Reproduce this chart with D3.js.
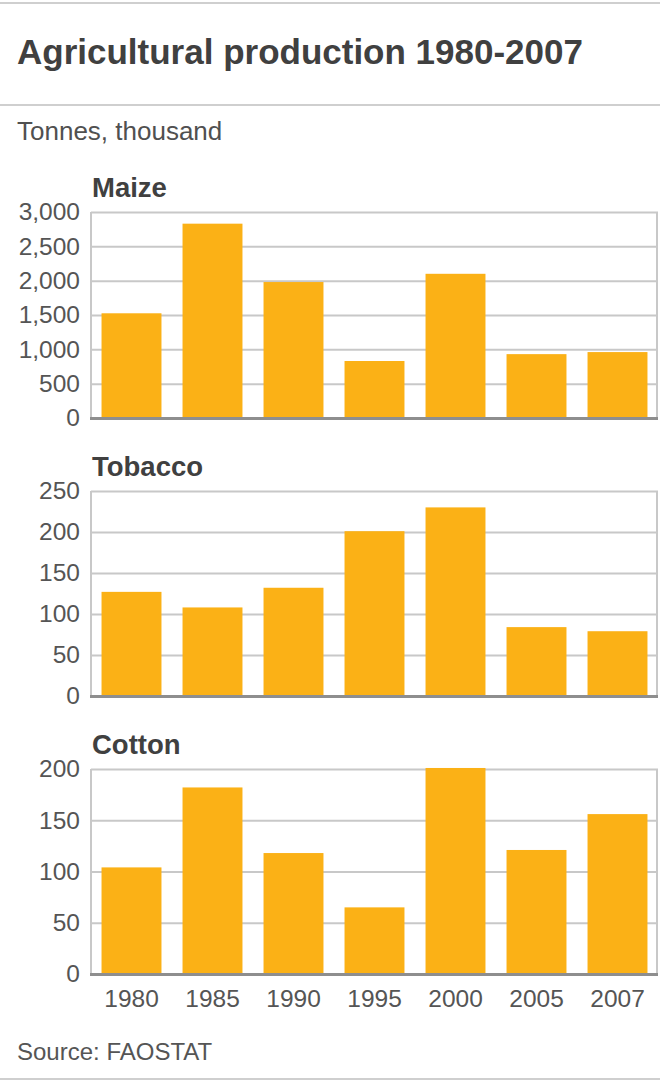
<!DOCTYPE html>
<html>
<head>
<meta charset="utf-8">
<script src="https://cdn.jsdelivr.net/npm/d3@7"></script>
<style>
  html, body { margin: 0; padding: 0; background: #fff; }
  svg { display: block; }
  text { font-family: "Liberation Sans", Arial, Helvetica, sans-serif; }
</style>
</head>
<body>
<div id="chart"></div>
<script>
const years = ["1980", "1985", "1990", "1995", "2000", "2005", "2007"];
const maize = [1525, 2830, 1980, 830, 2100, 930, 960];
const tobacco = [127, 108, 132, 201, 230, 84, 79];
const cotton = [104, 182, 118, 65, 201, 121, 156];
const maizeTicks = [0, 500, 1000, 1500, 2000, 2500, 3000];
const tobaccoTicks = [0, 50, 100, 150, 200, 250];
const cottonTicks = [0, 50, 100, 150, 200];
const panelNames = ["Maize", "Tobacco", "Cotton"];

const panels = [
  { name: panelNames[0], values: maize, ticks: maizeTicks, max: 3000, top: 212, bottom: 418 },
  { name: panelNames[1], values: tobacco, ticks: tobaccoTicks, max: 250, top: 491, bottom: 696 },
  { name: panelNames[2], values: cotton, ticks: cottonTicks, max: 200, top: 769, bottom: 974 }
];

const W = 660, H = 1081;
const svg = d3.select("#chart").append("svg").attr("width", W).attr("height", H);

const lineCol = "#cfcfcf";
svg.append("line").attr("x1", 0).attr("x2", W).attr("y1", 3).attr("y2", 3)
  .attr("stroke", lineCol).attr("stroke-width", 2);
svg.append("line").attr("x1", 0).attr("x2", W).attr("y1", 105).attr("y2", 105)
  .attr("stroke", lineCol).attr("stroke-width", 2);
svg.append("line").attr("x1", 0).attr("x2", W).attr("y1", 1079).attr("y2", 1079)
  .attr("stroke", lineCol).attr("stroke-width", 2);

svg.append("text").attr("x", 17).attr("y", 64)
  .attr("font-size", 35).attr("font-weight", "bold").attr("fill", "#404040")
  .text("Agricultural production 1980-2007");
svg.append("text").attr("x", 17).attr("y", 140)
  .attr("font-size", 26).attr("fill", "#505050")
  .text("Tonnes, thousand");

const left = 91, right = 658;
const x = d3.scaleBand().domain(years).range([left, right]).paddingInner(0.26).paddingOuter(0.13);

panels.forEach((p, i) => {
  const y = d3.scaleLinear().domain([0, p.max]).range([p.bottom, p.top]);
  const g = svg.append("g");

  // gridlines
  const grid = d3.axisLeft(y).tickValues(p.ticks).tickSize(-(right - left)).tickFormat("");
  const gg = g.append("g").attr("transform", `translate(${left},0)`).call(grid);
  gg.select(".domain").remove();
  gg.selectAll(".tick line").attr("stroke", "#c8c8c8").attr("stroke-width", 2);

  // left & right frame
  g.append("line").attr("x1", left).attr("x2", left).attr("y1", p.top).attr("y2", p.bottom)
    .attr("stroke", "#c8c8c8").attr("stroke-width", 2);
  g.append("line").attr("x1", right - 1).attr("x2", right - 1).attr("y1", p.top).attr("y2", p.bottom)
    .attr("stroke", "#c8c8c8").attr("stroke-width", 2);

  // bars
  g.selectAll("rect.bar").data(p.values).join("rect").attr("class", "bar")
    .attr("x", (d, j) => x(years[j]))
    .attr("width", x.bandwidth())
    .attr("y", d => y(d))
    .attr("height", d => y(0) - y(d))
    .attr("fill", "#fbb116");

  // baseline
  g.append("line").attr("x1", left - 1).attr("x2", right).attr("y1", y(0) + 0.5).attr("y2", y(0) + 0.5)
    .attr("stroke", "#8e8e8e").attr("stroke-width", 3);

  // tick labels
  const yAxis = d3.axisLeft(y).tickValues(p.ticks).tickSize(0).tickPadding(11)
    .tickFormat(d3.format(","));
  const ya = g.append("g").attr("transform", `translate(${left},0)`).call(yAxis);
  ya.select(".domain").remove();
  ya.selectAll(".tick text").attr("font-size", 24.5).attr("fill", "#555")
    .attr("font-family", "'Liberation Sans', Arial, sans-serif");

  // panel title
  g.append("text").attr("x", 92).attr("y", p.top - 15)
    .attr("font-size", 27.5).attr("font-weight", "bold").attr("fill", "#404040")
    .text(p.name);

  if (i === panels.length - 1) {
    const xAxis = d3.axisBottom(x).tickSize(0).tickPadding(16);
    const xa = g.append("g").attr("transform", `translate(0,${p.bottom})`).call(xAxis);
    xa.select(".domain").remove();
    xa.selectAll(".tick text").attr("font-size", 24.5).attr("fill", "#555")
      .attr("font-family", "'Liberation Sans', Arial, sans-serif");
  }
});

svg.append("text").attr("x", 17).attr("y", 1060)
  .attr("font-size", 24).attr("fill", "#555")
  .text("Source: FAOSTAT");
</script>
</body>
</html>
